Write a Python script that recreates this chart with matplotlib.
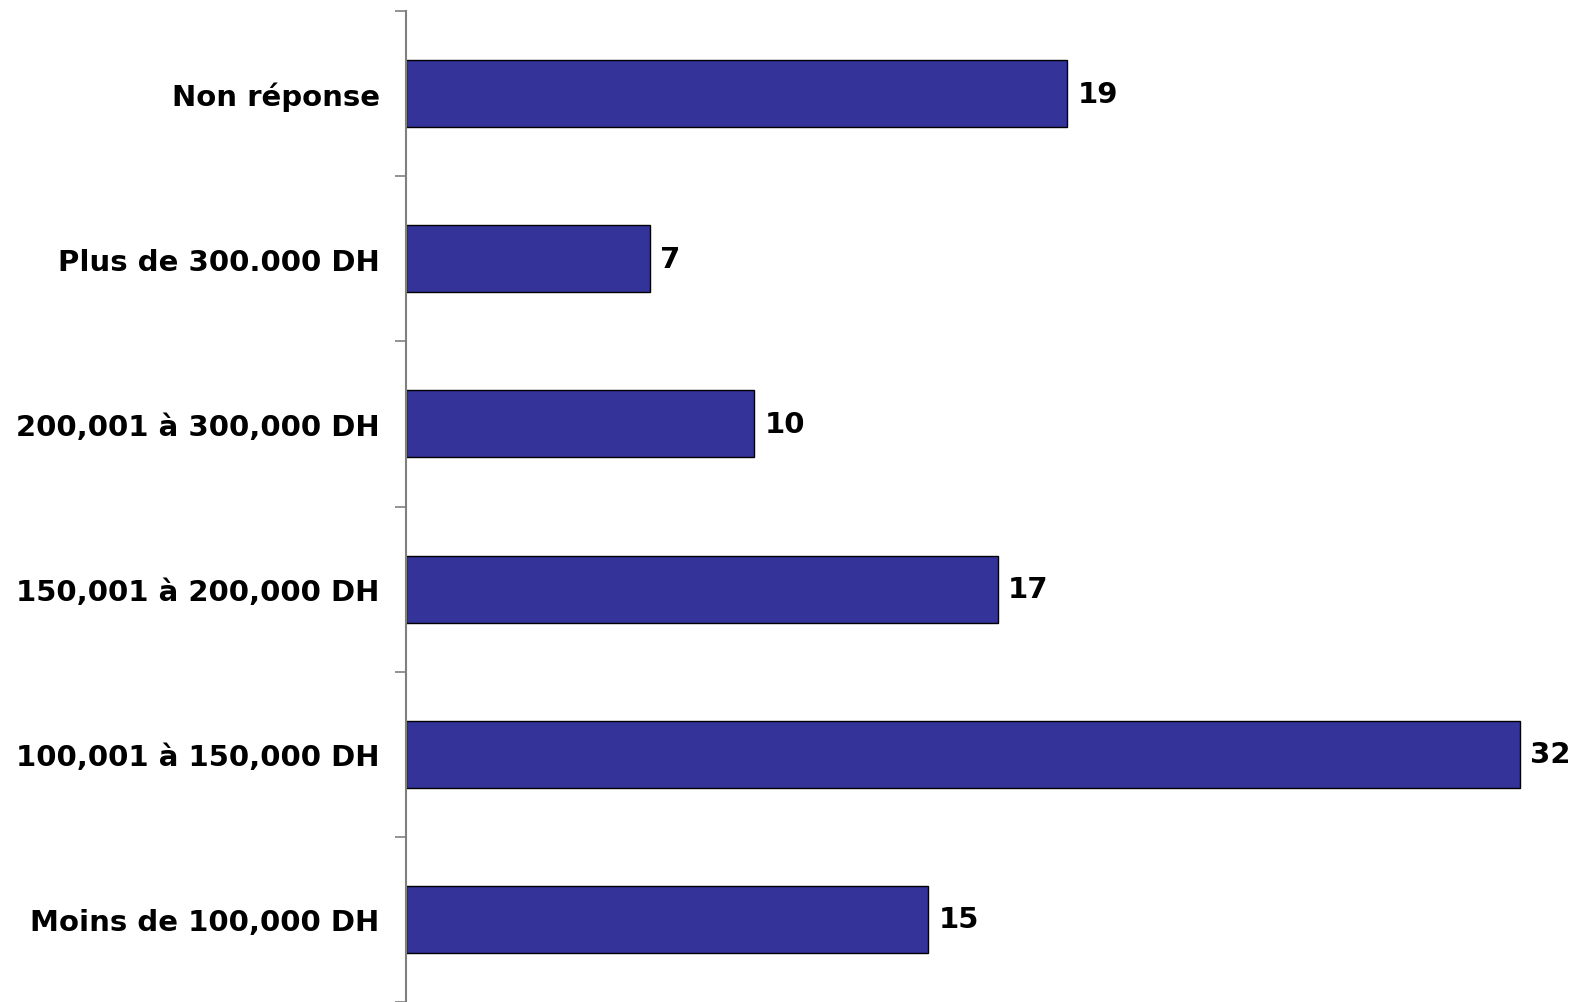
import matplotlib
matplotlib.use("Agg")
import matplotlib.pyplot as plt
import numpy as np

categories = ["Moins de 100,000 DH", "100,001 à 150,000 DH", "150,001 à 200,000 DH",
              "200,001 à 300,000 DH", "Plus de 300.000 DH", "Non réponse"]
values = [15, 32, 17, 10, 7, 19]

plt.rcParams['font.family'] = ['DejaVu Sans']

W, H = 1576, 1003
fig = plt.figure(figsize=(W / 100, H / 100), dpi=100)
ax = fig.add_axes([406 / W, 0.0, 1 - 406 / W, 1 - 12 / H])

y = np.arange(len(categories))
ax.barh(y, values, height=0.405, color="#333399", edgecolor="black", linewidth=1.0)

ax.set_xlim(0, 33.62)
ax.set_ylim(-0.5, len(categories) - 0.5)

for yi, v in zip(y, values):
    ax.text(v + 0.3, yi, str(v), va="center", ha="left", fontsize=21, fontweight="bold")

ax.set_yticks(y)
ax.set_yticklabels(categories, fontsize=21, fontweight="bold")
ax.tick_params(axis="y", which="major", length=0, pad=19)
ax.set_yticks(np.arange(-0.5, len(categories) - 0.4, 1.0), minor=True)
ax.tick_params(axis="y", which="minor", length=8, width=1.2, color="#808080", direction="out")
ax.set_xticks([])

for s in ["top", "right", "bottom"]:
    ax.spines[s].set_visible(False)
ax.spines["left"].set_color("#808080")
ax.spines["left"].set_linewidth(1.5)

fig.savefig("out.png", dpi=100)
